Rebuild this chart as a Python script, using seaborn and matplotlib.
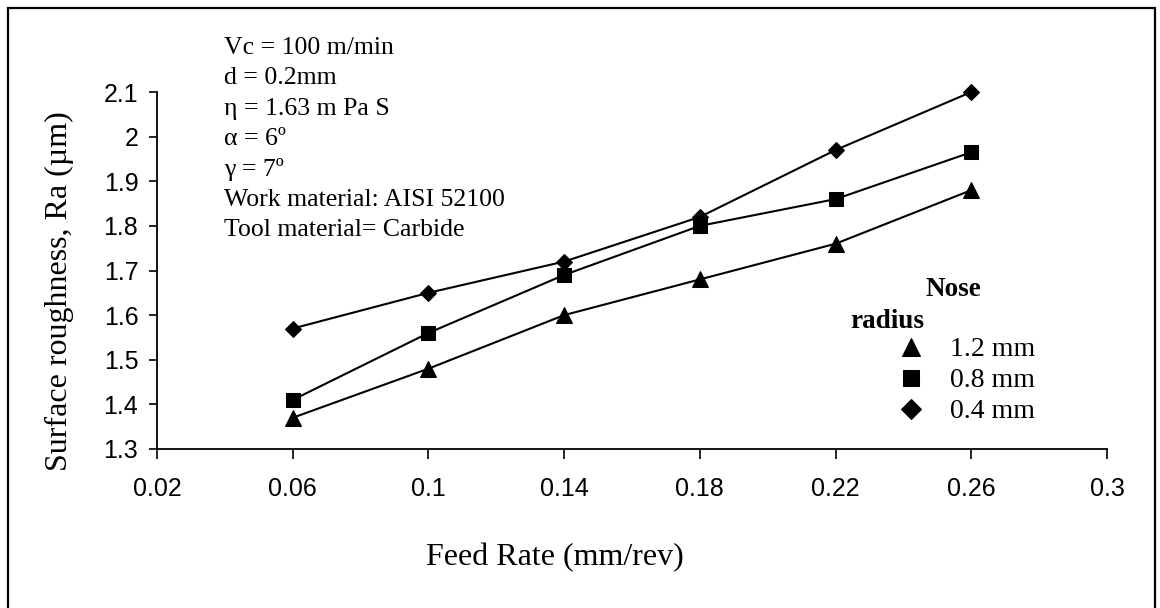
import numpy as np
import pandas as pd
import matplotlib
matplotlib.use("Agg")
import matplotlib.pyplot as plt
import seaborn as sns
from matplotlib.patches import Rectangle
from matplotlib.ticker import FuncFormatter

# Surface roughness vs feed rate for three nose radii
feed_rate = [0.06, 0.10, 0.14, 0.18, 0.22, 0.26]
ra_r12 = [1.37, 1.48, 1.60, 1.68, 1.76, 1.88]
ra_r08 = [1.41, 1.56, 1.69, 1.80, 1.86, 1.965]
ra_r04 = [1.57, 1.65, 1.72, 1.82, 1.97, 2.10]
radius_labels = ["1.2 mm", "0.8 mm", "0.4 mm"]
x_ticks = [0.02, 0.06, 0.10, 0.14, 0.18, 0.22, 0.26, 0.30]
y_ticks = [1.3, 1.4, 1.5, 1.6, 1.7, 1.8, 1.9, 2.0, 2.1]
conditions = [
    "Vc = 100 m/min",
    "d = 0.2mm",
    "\u03b7 = 1.63 m Pa S",
    "\u03b1 = 6\u00ba",
    "\u03b3 = 7\u00ba",
    "Work material: AISI 52100",
    "Tool material= Carbide",
]

df = pd.DataFrame({
    "feed": feed_rate * 3,
    "ra": ra_r12 + ra_r08 + ra_r04,
    "radius": [lab for lab in radius_labels for _ in feed_rate],
})

sns.set_style("ticks")
serif = ["Liberation Serif", "DejaVu Serif"]
sans = ["Liberation Sans Narrow", "Liberation Sans", "DejaVu Sans"]
plt.rcParams["font.family"] = serif
plt.rcParams["text.color"] = "black"
plt.rcParams["axes.labelcolor"] = "black"

fig = plt.figure(figsize=(11.6, 6.08), dpi=100)
ax = fig.add_axes([157 / 1160, 1 - 449 / 608, 950 / 1160, 357 / 608])

markers = {"1.2 mm": "^", "0.8 mm": "s", "0.4 mm": "D"}
msizes = {"1.2 mm": 11.5, "0.8 mm": 10.5, "0.4 mm": 8.5}
for lab in radius_labels:
    sub = df[df["radius"] == lab]
    sns.lineplot(data=sub, x="feed", y="ra", ax=ax, color="black", lw=1.5,
                 marker=markers[lab], ms=msizes[lab], mec="black", mfc="black",
                 label=lab, clip_on=False)

ax.set_xlim(0.02, 0.30)
ax.set_ylim(1.3, 2.1)
ax.set_xticks(x_ticks)
ax.set_yticks(y_ticks)
fmt = FuncFormatter(lambda v, p: f"{v:g}")
ax.xaxis.set_major_formatter(fmt)
ax.yaxis.set_major_formatter(fmt)
for lbl in ax.get_xticklabels() + ax.get_yticklabels():
    lbl.set_family(sans)
    lbl.set_fontsize(18)
    lbl.set_color("black")
ax.tick_params(axis="x", length=7.5, width=1.2, pad=13, colors="black")
ax.tick_params(axis="y", length=5.5, width=1.2, pad=8, colors="black")
sns.despine(ax=ax)
for s in ("left", "bottom"):
    ax.spines[s].set_linewidth(1.3)
    ax.spines[s].set_color("black")

ax.set_xlabel("Feed Rate (mm/rev)", fontsize=23)
ax.set_ylabel("Surface roughness, Ra (\u00b5m)", fontsize=23)
ax.xaxis.set_label_coords(0.419, -0.263)
ax.yaxis.set_label_coords(-0.087, 0.443)

# legend: markers only
handles, labels = ax.get_legend_handles_labels()
leg = ax.legend(handles, labels, loc="upper left",
                bbox_to_anchor=(897 / 1160, 1 - 337 / 608),
                bbox_transform=fig.transFigure, frameon=False,
                fontsize=20, handlelength=1.0, handletextpad=0.9,
                labelspacing=0.2, borderpad=0, borderaxespad=0,
                markerscale=1.15)
for h in leg.legend_handles:
    h.set_linestyle("none")

fig.text(953 / 1160, 1 - 290 / 608, "Nose", ha="center", va="center",
         fontsize=19.5, fontweight="bold")
fig.text(887 / 1160, 1 - 321 / 608, "radius", ha="center", va="center",
         fontsize=19.5, fontweight="bold")

for i, line in enumerate(conditions):
    fig.text(224 / 1160, 1 - (48 + 30.3 * i) / 608, line, ha="left",
             va="center", fontsize=18.5)

# outer frame around the whole chart
fig.patches.append(Rectangle((8 / 1160, -0.05), 1147 / 1160, 1.05 - 8 / 608,
                             transform=fig.transFigure, fill=False,
                             edgecolor="black", lw=1.6))

fig.savefig("out.png", dpi=100)
